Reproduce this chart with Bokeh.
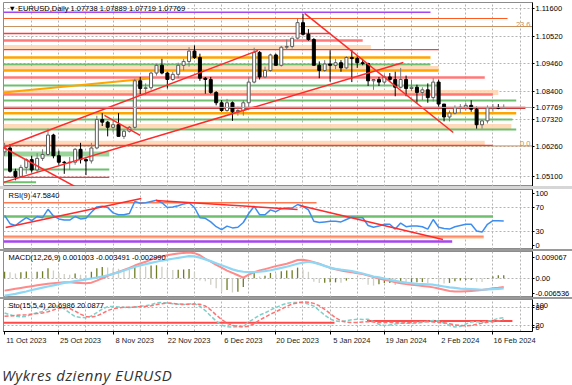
from bokeh.plotting import figure
from bokeh.layouts import column
from bokeh.models import (Range1d, FixedTicker, Label, Div, Span, ColumnDataSource,
                          PrintfTickFormatter)
from bokeh.embed import file_html
from bokeh.resources import INLINE

# ---------------- data ----------------
date_labels = ["11 Oct 2023", "25 Oct 2023", "8 Nov 2023", "22 Nov 2023", "6 Dec 2023",
               "20 Dec 2023", "5 Jan 2024", "19 Jan 2024", "2 Feb 2024", "16 Feb 2024"]
label_bars = [0, 10, 20, 30, 40, 50, 60, 70, 80, 90]

opens = [1.0605, 1.0620, 1.0530, 1.0510, 1.0545, 1.0575, 1.0535, 1.0580, 1.0595, 1.0670,
         1.0590, 1.0565, 1.0563, 1.0565, 1.0615, 1.0575, 1.0570, 1.0620, 1.0730, 1.0720,
         1.0700, 1.0710, 1.0665, 1.0685, 1.0700, 1.0880, 1.0850, 1.0853, 1.0910, 1.0940,
         1.0910, 1.0885, 1.0905, 1.0940, 1.0955, 1.0995, 1.0970, 1.0890, 1.0885, 1.0835,
         1.0795, 1.0765, 1.0795, 1.0760, 1.0765, 1.0795, 1.0875, 1.0990, 1.0895, 1.0920,
         1.0980, 1.0940, 1.1010, 1.1013, 1.1045, 1.1105, 1.1060, 1.1040, 1.0940, 1.0920,
         1.0945, 1.0940, 1.0950, 1.0930, 1.0970, 1.0966, 1.0950, 1.0947, 1.0880, 1.0885,
         1.0875, 1.0895, 1.0885, 1.0855, 1.0885, 1.0850, 1.0855, 1.0835, 1.0845, 1.0815,
         1.0875, 1.0790, 1.0740, 1.0755, 1.0775, 1.0778, 1.0785, 1.0770, 1.0710, 1.0725,
         1.0775, 1.0777, 1.07738]
highs = [1.0640, 1.0635, 1.0540, 1.0555, 1.0580, 1.0590, 1.0600, 1.0615, 1.0695, 1.0675,
         1.0610, 1.0570, 1.0585, 1.0620, 1.0640, 1.0580, 1.0640, 1.0745, 1.0755, 1.0725,
         1.0725, 1.0755, 1.0690, 1.0705, 1.0888, 1.0895, 1.0870, 1.0915, 1.0945, 1.0965,
         1.0915, 1.0915, 1.0950, 1.0965, 1.1010, 1.1017, 1.0985, 1.0895, 1.0895, 1.0840,
         1.0805, 1.0810, 1.0800, 1.0780, 1.0805, 1.0895, 1.1008, 1.0995, 1.0935, 1.0985,
         1.0985, 1.1015, 1.1040, 1.1045, 1.1122, 1.1139, 1.1080, 1.1045, 1.0955, 1.0960,
         1.0998, 1.0965, 1.0960, 1.0975, 1.0999, 1.0975, 1.0965, 1.0950, 1.0885, 1.0895,
         1.0905, 1.0910, 1.0915, 1.0930, 1.0900, 1.0885, 1.0865, 1.0855, 1.0870, 1.0890,
         1.0885, 1.0790, 1.0765, 1.0785, 1.0790, 1.0795, 1.0805, 1.0780, 1.0730, 1.0785,
         1.0790, 1.0790, 1.07889]
lows = [1.0590, 1.0525, 1.0495, 1.0505, 1.0520, 1.0525, 1.0525, 1.0570, 1.0590, 1.0580,
        1.0555, 1.0520, 1.0535, 1.0555, 1.0560, 1.0515, 1.0560, 1.0615, 1.0705, 1.0665,
        1.0680, 1.0665, 1.0655, 1.0680, 1.0695, 1.0828, 1.0825, 1.0845, 1.0900, 1.0905,
        1.0850, 1.0880, 1.0890, 1.0920, 1.0935, 1.0965, 1.0880, 1.0830, 1.0830, 1.0785,
        1.0760, 1.0760, 1.0725, 1.0745, 1.0745, 1.0775, 1.0870, 1.0885, 1.0890, 1.0915,
        1.0940, 1.0935, 1.1000, 1.1005, 1.1040, 1.1055, 1.1035, 1.0940, 1.0890, 1.0915,
        1.0877, 1.0925, 1.0915, 1.0925, 1.0875, 1.0930, 1.0940, 1.0860, 1.0845, 1.0860,
        1.0865, 1.0875, 1.0820, 1.0850, 1.0820, 1.0840, 1.0795, 1.0805, 1.0795, 1.0800,
        1.0780, 1.0723, 1.0723, 1.0750, 1.0755, 1.0765, 1.0760, 1.0695, 1.0695, 1.0715,
        1.0760, 1.0770, 1.07719]
closes = [1.0620, 1.0530, 1.0510, 1.0545, 1.0575, 1.0535, 1.0580, 1.0595, 1.0670, 1.0590,
          1.0565, 1.0563, 1.0565, 1.0615, 1.0575, 1.0570, 1.0620, 1.0730, 1.0720, 1.0700,
          1.0710, 1.0665, 1.0685, 1.0700, 1.0880, 1.0850, 1.0853, 1.0910, 1.0940, 1.0910,
          1.0885, 1.0905, 1.0940, 1.0955, 1.0995, 1.0970, 1.0890, 1.0885, 1.0835, 1.0795,
          1.0765, 1.0795, 1.0760, 1.0765, 1.0795, 1.0875, 1.0990, 1.0895, 1.0920, 1.0980,
          1.0940, 1.1010, 1.1013, 1.1045, 1.1105, 1.1060, 1.1040, 1.0940, 1.0920, 1.0945,
          1.0940, 1.0950, 1.0930, 1.0970, 1.0966, 1.0950, 1.0947, 1.0880, 1.0885, 1.0875,
          1.0895, 1.0885, 1.0855, 1.0885, 1.0850, 1.0855, 1.0835, 1.0845, 1.0815, 1.0875,
          1.0790, 1.0740, 1.0755, 1.0775, 1.0778, 1.0785, 1.0770, 1.0710, 1.0725, 1.0775,
          1.0777, 1.07738, 1.07769]
price_ticks = [1.116, 1.1052, 1.0946, 1.0840, 1.0732, 1.0626, 1.0510]

# horizontal levels: (price, last bar reached)
purple_lv = [(1.1145, 78.5)]
orangered_lv = [(1.1121, 92.7)]
fib_lv = [(1.1090, "23.6"), (1.0628, "0.0")]
red_thin_lv = [(1.1063, 60), (1.1001, 80), (1.0630, 90), (1.0506, 19.3)]
red_thick_lv = [(1.1036, 66), (1.0893, 88.5), (1.0827, 90)]
peach_lv = [(1.1009, 67.5), (1.0928, 80), (1.0835, 91), (1.0703, 93.4), (1.0638, 88.5)]
orange_lv = [(1.0970, 78.5), (1.0920, 80), (1.0754, 94.3)]
green_lv = [(1.0943, 78.5), (1.0862, 80), (1.0804, 94.3), (1.0730, 93.6), (1.0692, 94.3),
            (1.0537, 19.3), (1.0487, 5.8)]
green_band_lv = [(1.0597, 19.3)]
maroon_lv = [(1.0775, 96)]
# trend lines (bar0, price0, bar1, price1)
red_trends = [(-0.2, 1.0487, 73.5, 1.0951), (-0.2, 1.0622, 46.7, 1.0997),
              (55.3, 1.1141, 82.7, 1.0680), (-0.2, 1.0622, 13.3, 1.0467),
              (18.4, 1.0746, 25.0, 1.0669)]
orange_trends = [(-0.2, 1.0835, 26.6, 1.0889)]

rsi = [57, 43, 40, 47, 53, 48, 55, 53, 67, 56,
       51, 49, 49, 55, 51, 52, 62, 71, 72, 70,
       61, 58, 58, 60, 80, 77, 78, 80, 82, 78,
       70, 71, 73, 76, 78, 70, 53, 52, 46, 38,
       33, 39, 36, 37, 45, 60, 72, 58, 58, 66,
       63, 68, 69, 69, 75, 72, 66, 47, 45, 46,
       47, 47, 46, 50, 54, 53, 53, 40, 37, 39,
       42, 42, 34, 44, 38, 39, 39, 38, 34, 50,
       37, 35, 34, 38, 40, 42, 42, 31, 29, 42,
       48, 48, 47.58]
rsi_lv = {"coral": [(78, 57.5)], "green": [(55, 90)], "salmon": [(21.7, 88.3)],
          "peach": [(19.5, 88.3)], "purple": [(13.3, 82.5)]}
rsi_trends = [(0.2, 36.7, 25.2, 85), (27.9, 81.7, 54, 66.7), (54.4, 73.3, 80.8, 16.7)]

macd_main = [-0.0059, -0.0056, -0.0053, -0.0049, -0.0045, -0.0040, -0.0036, -0.0032, -0.0028, -0.0024,
             -0.0020, -0.0016, -0.0013, -0.0010, -0.0007, -0.0004, -0.0001, 0.0002, 0.0006, 0.0010,
             0.0015, 0.0020, 0.0026, 0.0032, 0.0038, 0.0043, 0.0048, 0.0052, 0.0056, 0.0060,
             0.0063, 0.0066, 0.0069, 0.0072, 0.0075, 0.0074, 0.0070, 0.0064, 0.0058, 0.0051,
             0.0044, 0.0037, 0.0030, 0.0025, 0.0022, 0.0021, 0.0021, 0.0022, 0.0024, 0.0027,
             0.0031, 0.0035, 0.0039, 0.0044, 0.0049, 0.0053, 0.0056, 0.0053, 0.0048, 0.0042,
             0.0036, 0.0032, 0.0029, 0.0027, 0.0024, 0.0020, 0.0016, 0.0011, 0.0006, 0.0003,
             -0.0001, -0.0005, -0.0009, -0.0012, -0.0015, -0.0017, -0.0019, -0.0020, -0.0021, -0.0022,
             -0.0025, -0.0028, -0.0031, -0.0033, -0.0035, -0.0036, -0.0037, -0.0038, -0.0039, -0.0038,
             -0.0037, -0.0036, -0.003491]
macd_signal = [-0.0042, -0.0039, -0.0036, -0.0033, -0.0030, -0.0027, -0.0024, -0.0021, -0.0019, -0.0017,
               -0.0015, -0.0014, -0.0014, -0.0015, -0.0016, -0.0017, -0.0015, -0.0008, 0.0000, 0.0008,
               0.0015, 0.0021, 0.0028, 0.0035, 0.0043, 0.0050, 0.0056, 0.0063, 0.0070, 0.0074,
               0.0078, 0.0081, 0.0084, 0.0086, 0.0087, 0.0085, 0.0078, 0.0066, 0.0056, 0.0045,
               0.0036, 0.0026, 0.0018, 0.0010, 0.0002, 0.0012, 0.0020, 0.0026, 0.0031, 0.0036,
               0.0041, 0.0045, 0.0049, 0.0055, 0.0062, 0.0063, 0.0059, 0.0054, 0.0049, 0.0042,
               0.0035, 0.0030, 0.0026, 0.0023, 0.0020, 0.0017, 0.0014, 0.0009, 0.0004, -0.0001,
               -0.0005, -0.0009, -0.0014, -0.0017, -0.0020, -0.0022, -0.0024, -0.0026, -0.0028, -0.0031,
               -0.0035, -0.0039, -0.0043, -0.0045, -0.0045, -0.0044, -0.0043, -0.0042, -0.0040, -0.0037,
               -0.0034, -0.0032, -0.00299]
macd_hist = [0.0022, 0.0020, 0.0016, 0.0020, 0.0023, 0.0018, 0.0022, 0.0024, 0.0034, 0.0026,
             0.0018, 0.0014, 0.0012, 0.0016, 0.0012, 0.0010, 0.0022, 0.0034, 0.0038, 0.0036,
             0.0034, 0.0032, 0.0030, 0.0029, 0.0044, 0.0042, 0.0040, 0.0043, 0.0044, 0.0039,
             0.0030, 0.0028, 0.0029, 0.0030, 0.0031, 0.0020, -0.0008, -0.0010, -0.0022, -0.0034,
             -0.0046, -0.0040, -0.0048, -0.0046, -0.0030, -0.0002, 0.0020, 0.0006, 0.0008, 0.0018,
             0.0016, 0.0024, 0.0026, 0.0027, 0.0036, 0.0030, 0.0022, -0.0012, -0.0016, -0.0015,
             -0.0014, -0.0014, -0.0015, -0.0008, -0.0002, -0.0003, -0.0004, -0.0022, -0.0025, -0.0020,
             -0.0016, -0.0016, -0.0023, -0.0012, -0.0018, -0.0015, -0.0014, -0.0013, -0.0017, -0.0002,
             -0.0015, -0.0018, -0.0016, -0.0010, -0.0008, -0.0006, -0.0006, -0.0012, -0.0013, -0.0002,
             0.0006, 0.0010, 0.001003]
macd_ticks = {0.0069: "0.009067", 0.0: "0.00", -0.0051: "-0.006536"}

sto_main = [62, 56, 51, 49, 50, 58, 63, 67, 75, 86,
            84, 76, 62, 50, 47, 46, 52, 63, 75, 83,
            84, 82, 81, 80, 82, 85, 86, 90, 96, 97,
            95, 93, 91, 90, 92, 93, 84, 70, 52, 35,
            22, 16, 15, 16, 18, 32, 43, 55, 62, 72,
            80, 88, 94, 97, 97, 96, 92, 85, 70, 55,
            42, 35, 33, 36, 39, 41, 40, 41, 33, 24,
            20, 22, 25, 28, 28, 27, 28, 30, 34, 37,
            35, 28, 20, 15, 17, 25, 32, 33, 31, 34,
            38, 44, 46]
sto_signal = [51, 52, 54, 55, 56, 58, 60, 62, 66, 72,
              78, 80, 77, 68, 58, 50, 48, 52, 60, 70,
              76, 79, 81, 81, 82, 83, 84, 86, 90, 93,
              95, 94, 92, 91, 91, 92, 91, 85, 72, 55,
              40, 28, 20, 17, 15, 18, 26, 38, 48, 58,
              66, 75, 84, 92, 96, 99, 98, 94, 86, 74,
              60, 46, 36, 31, 30, 30, 32, 33, 32, 30,
              30, 30, 30, 28, 29, 30, 32, 33, 33, 32,
              30, 29, 26, 22, 20, 19, 20, 24, 28, 31,
              33, 35, 40]
sto_lv = [(29, -0.2, 60.8), (35, 66.8, 93.6)]
sto_ticks = {14: "0", 20: "20", 80: "80", 86: "100"}
rsi_ticks = {7: "0", 30: "30", 70: "70", 93: "100"}

# ---------------- layout ----------------
W = 572
LEFT, RIGHT = 3, 39
FONT = "Liberation Sans"
FS = "7.5px"
x_rng = Range1d(-0.2, 97.3)
n = len(closes)
idx = list(range(n))
grid_bars = list(range(5, 100, 5))

GREEN = "#5fb85f"
RED = "#ff3b3b"
LRED = "#ff6a6a"
ORANGE = "#ffa500"
PEACH = "#ffd6b3"
PURPLE = "#a646ee"
TAN = "#c8905c"


def make_fig(h, yr, bottom=False, top=0):
    f = figure(width=W, height=h, x_range=x_rng, y_range=yr, output_backend="svg",
               toolbar_location=None, tools="", y_axis_location="right",
               x_axis_location=("below" if bottom else None),
               min_border_left=LEFT, min_border_right=RIGHT, min_border_top=top,
               min_border_bottom=(14 if bottom else 0))
    f.background_fill_color = "white"
    f.border_fill_color = "white"
    f.outline_line_color = "#8c8c8c"
    f.outline_line_width = 1
    ax = f.yaxis[0]
    ax.axis_line_color = "black"
    ax.major_tick_out = 2
    ax.major_tick_in = 0
    ax.minor_tick_out = 0
    ax.minor_tick_in = 0
    ax.major_label_standoff = 1
    ax.major_label_text_font = FONT
    ax.major_label_text_font_size = FS
    ax.major_label_text_color = "black"
    f.xgrid.ticker = FixedTicker(ticks=grid_bars)
    for g in (f.xgrid[0], f.ygrid[0]):
        g.grid_line_color = "#b4b4b4"
        g.grid_line_dash = "2 2"
        g.grid_line_width = 1
    return f


def hlines(f, levels, color, width, alpha=1.0):
    f.segment(x0=[x_rng.start] * len(levels), y0=[lv[0] for lv in levels],
              x1=[lv[1] for lv in levels], y1=[lv[0] for lv in levels],
              line_color=color, line_width=width, line_alpha=alpha)


def header(f, text, yr):
    f.add_layout(Label(x=x_rng.start, y=yr.end, x_offset=5, y_offset=-1, text=text,
                       text_baseline="top", text_font=FONT, text_font_size=FS,
                       text_color="black"))


# ---- main price pane ----
main_yr = Range1d(1.0471, 1.1183)
p = make_fig(186, main_yr, top=2)
p.yaxis[0].ticker = FixedTicker(ticks=price_ticks + [closes[-1]])
p.yaxis[0].formatter = PrintfTickFormatter(format="%.5f")
p.ygrid.ticker = FixedTicker(ticks=price_ticks)

hlines(p, peach_lv, PEACH, 5, 0.9)
hlines(p, green_band_lv, "#8fcf8f", 5, 0.9)
p.segment(x0=[x_rng.start] * 2, y0=[f[0] for f in fib_lv], x1=[x_rng.end] * 2,
          y1=[f[0] for f in fib_lv], line_color=TAN, line_width=1)
hlines(p, purple_lv, PURPLE, 1.5)
hlines(p, orangered_lv, "#ff5a1f", 1.2)
hlines(p, red_thick_lv, LRED, 2.5, 0.9)
hlines(p, red_thin_lv, RED, 1.3)
hlines(p, orange_lv, ORANGE, 2.5)
hlines(p, green_lv, GREEN, 2, 0.9)
hlines(p, maroon_lv, "#c83c3c", 2.2)
p.add_layout(Span(location=closes[-1], dimension="width", line_color="#a8a8b8", line_width=1))
for fv, ft in fib_lv:
    p.add_layout(Label(x=x_rng.end, y=fv, x_offset=-2, text=ft, text_align="right",
                       text_baseline="bottom", text_font=FONT, text_font_size=FS,
                       text_color=TAN))
p.segment(x0=[t[0] for t in orange_trends], y0=[t[1] for t in orange_trends],
          x1=[t[2] for t in orange_trends], y1=[t[3] for t in orange_trends],
          line_color=ORANGE, line_width=2)

bull = [c >= o for o, c in zip(opens, closes)]
src = ColumnDataSource(dict(
    x=idx, h=highs, l=lows,
    top=[max(o, c) for o, c in zip(opens, closes)],
    bot=[min(o, c) for o, c in zip(opens, closes)],
    fill=["white" if b else "black" for b in bull],
    line=["#5a5a5a" if b else "black" for b in bull],
    wick=["#7c7c7c" if b else "black" for b in bull]))
p.segment("x", "h", "x", "l", source=src, line_color="wick", line_width=1)
p.vbar(x="x", width=0.55, top="top", bottom="bot", source=src, fill_color="fill",
       line_color="line", line_width=1)

p.segment(x0=[t[0] for t in red_trends], y0=[t[1] for t in red_trends],
          x1=[t[2] for t in red_trends], y1=[t[3] for t in red_trends],
          line_color="#ff2a2a", line_width=1.5)
header(p, "\u25bc EURUSD,Daily  1.07738 1.07889 1.07719 1.07769", main_yr)

# ---- RSI pane ----
rsi_yr = Range1d(0, 100)
r = make_fig(60, rsi_yr)
r.yaxis[0].ticker = FixedTicker(ticks=list(rsi_ticks.keys()))
r.yaxis[0].major_label_overrides = rsi_ticks
r.ygrid.ticker = FixedTicker(ticks=[30, 70])
hlines(r, rsi_lv["coral"], "#ff7a50", 1.5)
hlines(r, rsi_lv["green"], GREEN, 2.5, 0.9)
hlines(r, rsi_lv["peach"], PEACH, 2)
hlines(r, rsi_lv["salmon"], "#ff8866", 2)
hlines(r, rsi_lv["purple"], PURPLE, 2.5)
r.line(idx, rsi, line_color="#3d8ef0", line_width=1.5)
r.segment(x0=[t[0] for t in rsi_trends], y0=[t[1] for t in rsi_trends],
          x1=[t[2] for t in rsi_trends], y1=[t[3] for t in rsi_trends],
          line_color="#ff2a2a", line_width=1.5)
header(r, "RSI(9) 47.5840", rsi_yr)

# ---- MACD pane ----
macd_yr = Range1d(-0.006536, 0.009067)
m = make_fig(46, macd_yr)
m.yaxis[0].ticker = FixedTicker(ticks=list(macd_ticks.keys()))
m.yaxis[0].major_label_overrides = macd_ticks
m.ygrid.ticker = FixedTicker(ticks=[0.0])
hist_col = ["#6f7d24" if (i == 0 or macd_hist[i] >= macd_hist[i - 1]) else "#cfcfc4"
            for i in idx]
m.segment(x0=idx, y0=[0] * n, x1=idx, y1=macd_hist, line_color=hist_col, line_width=1.3)
m.line(idx, macd_signal, line_color="#ff8a8a", line_width=2)
m.line(idx, macd_main, line_color="#8fd8f5", line_width=2.2)
header(m, "MACD(12,26,9) 0.001003 -0.003491 -0.002990", macd_yr)

# ---- Stochastic pane ----
sto_yr = Range1d(0, 107)
s = make_fig(48, sto_yr, bottom=True)
s.yaxis[0].ticker = FixedTicker(ticks=list(sto_ticks.keys()))
s.yaxis[0].major_label_overrides = sto_ticks
s.ygrid.ticker = FixedTicker(ticks=[20, 80])
s.segment(x0=[lv[1] for lv in sto_lv], y0=[lv[0] for lv in sto_lv],
          x1=[lv[2] for lv in sto_lv], y1=[lv[0] for lv in sto_lv],
          line_color="#ff4a4a", line_width=2)
s.line(idx, sto_main, line_color="#7fd0c8", line_width=1.5, line_dash="4 2")
s.line(idx, sto_signal, line_color="#ff7272", line_width=1.5, line_dash="4 2")
header(s, "Sto(15,5,4) 20.6986 20.0877", sto_yr)
xa = s.xaxis[0]
xa.ticker = FixedTicker(ticks=[b + 4 for b in label_bars], minor_ticks=label_bars)
xa.major_label_overrides = {b + 4: t for b, t in zip(label_bars, date_labels)}
xa.major_tick_out = 0
xa.major_tick_in = 0
xa.minor_tick_out = 3
xa.minor_tick_in = 0
xa.major_label_standoff = 1
xa.axis_line_color = "black"
xa.major_label_text_font = FONT
xa.major_label_text_font_size = FS
xa.major_label_text_color = "#222222"


def sep(h, color):
    return Div(text="", width=W, height=h, margin=(0, 0, 0, 0),
               styles={"background-color": color})


caption = Div(text="Wykres dzienny EURUSD", width=W, height=37, margin=(0, 0, 0, 0),
              styles={"font-family": "Open Sans", "font-style": "italic", "font-size": "15px",
                      "color": "#333333", "padding-top": "20px", "line-height": "17px",
                      "letter-spacing": "0.5px", "padding-left": "2px"})

layout = column(p, sep(3, "#d6d6d6"), r, sep(2, "#9a9a9a"), m, sep(2, "#9a9a9a"), s, caption,
                spacing=0)

open("out.html", "w").write(file_html(layout, INLINE))
